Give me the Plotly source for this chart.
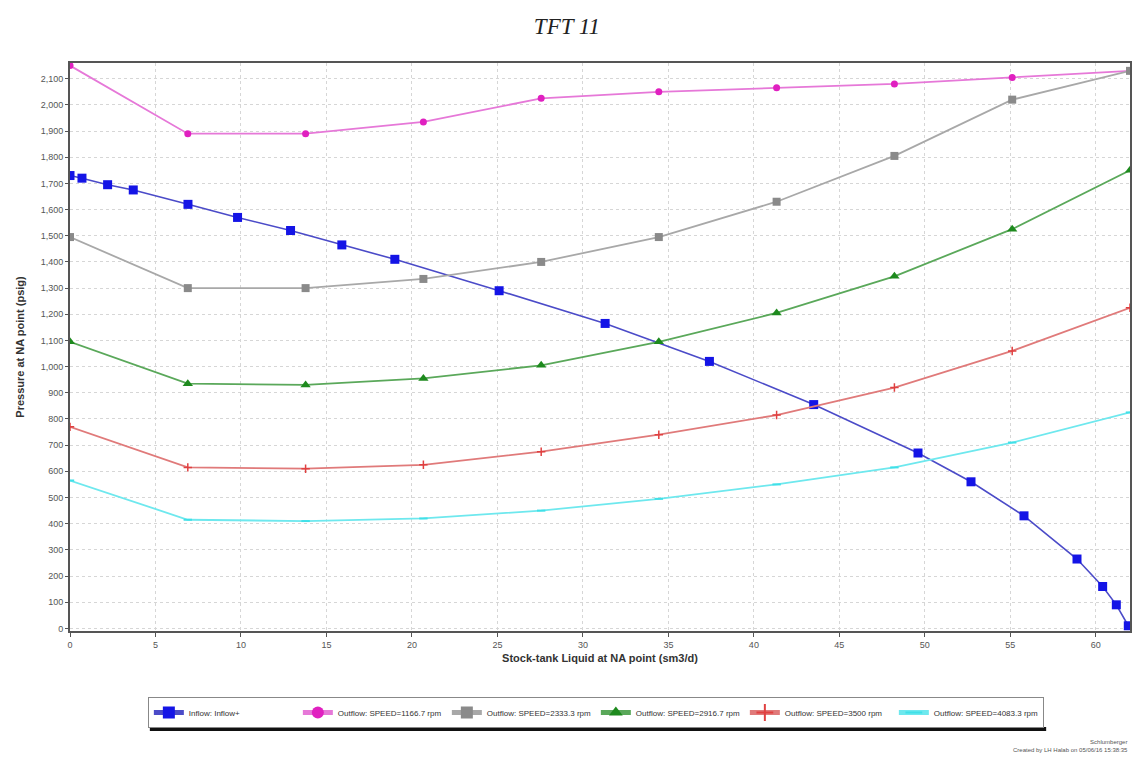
import plotly.graph_objects as go

# Liquid rate grid shared by the outflow (VLP) curves, sm3/d
outflow_rate = [0, 6.89, 13.78, 20.67, 27.56, 34.44, 41.33, 48.22, 55.11, 62.0]

# Outflow curves at each pump speed, pressure in psig
p_1166 = [2150, 1890, 1890, 1935, 2025, 2050, 2065, 2080, 2105, 2130]
p_2333 = [1495, 1300, 1300, 1335, 1400, 1495, 1630, 1805, 2020, 2130]
p_2916 = [1095, 935, 930, 955, 1005, 1095, 1205, 1345, 1525, 1750]
p_3500 = [770, 615, 610, 625, 675, 740, 815, 920, 1060, 1225]
p_4083 = [565, 415, 410, 420, 450, 495, 550, 615, 710, 825]

# Inflow (IPR) curve
inflow_rate = [0, 0.7, 2.2, 3.7, 6.9, 9.8, 12.9, 15.9, 19.0, 25.1,
               31.3, 37.4, 43.5, 49.6, 52.7, 55.8, 58.9, 60.4, 61.2, 61.9]
inflow_p = [1730, 1720, 1695, 1675, 1620, 1570, 1520, 1465, 1410, 1290,
            1165, 1020, 855, 670, 560, 430, 265, 160, 90, 10]

names = [
    "Inflow: Inflow+",
    "Outflow: SPEED=1166.7 rpm",
    "Outflow: SPEED=2333.3 rpm",
    "Outflow: SPEED=2916.7 rpm",
    "Outflow: SPEED=3500 rpm",
    "Outflow: SPEED=4083.3 rpm",
]

fig = go.Figure()

fig.add_trace(go.Scatter(
    x=inflow_rate, y=inflow_p, name=names[0], mode="lines+markers",
    line=dict(color="#4b4bc8", width=1.6),
    marker=dict(symbol="square", size=9, color="#1414e6"),
))

styles = [
    (p_1166, "#e678d8", dict(symbol="circle", size=7, color="#e020c0")),
    (p_2333, "#a8a8a8", dict(symbol="square", size=8, color="#8a8a8a")),
    (p_2916, "#5aa85a", dict(symbol="triangle-up", size=9, color="#1e8a1e")),
    (p_3500, "#e07a7a", dict(symbol="cross-thin", size=6, color="#e04040",
                             line=dict(width=1.5, color="#e04040"))),
    (p_4083, "#6ee8ee", dict(symbol="line-ew", size=6, color="#40e0e8",
                             line=dict(width=2, color="#40e0e8"))),
]
for (vals, lcol, mk), nm in zip(styles, names[1:]):
    fig.add_trace(go.Scatter(
        x=outflow_rate, y=vals, name=nm, mode="lines+markers",
        line=dict(color=lcol, width=1.8), marker=mk,
    ))

W, H = 1134, 758
ml, mr, mt, mb = 70, 2, 63, 127
plot_w = W - ml - mr
plot_h = H - mt - mb


def px_x(px):
    return (px - ml) / plot_w


def px_y(py):
    return -(py - (H - mb)) / plot_h


fig.update_layout(
    width=W, height=H,
    margin=dict(l=ml, r=mr, t=mt, b=mb),
    paper_bgcolor="white", plot_bgcolor="white",
    font=dict(family="Liberation Sans, Arial, sans-serif", color="#444"),
    title=dict(
        text="TFT 11", x=0.5, xanchor="center", y=1 - 26 / H, yanchor="middle",
        font=dict(family="Liberation Serif, Times New Roman, serif", size=23,
                  color="#222", style="italic"),
    ),
    showlegend=True,
    legend=dict(
        orientation="h", x=px_x(148), xanchor="left",
        y=px_y(697), yanchor="top",
        bgcolor="white", bordercolor="#888", borderwidth=1,
        font=dict(size=8, color="#333"), entrywidth=104, entrywidthmode="pixels",
        itemsizing="constant", itemwidth=30, tracegroupgap=0,
    ),
)

fig.update_xaxes(
    range=[0, 62], dtick=5, tick0=0,
    showgrid=True, gridcolor="#d6d6d6", griddash="dot", gridwidth=1,
    showline=True, linecolor="#555", linewidth=2, mirror=True,
    ticks="outside", ticklen=4, tickcolor="#555",
    tickfont=dict(size=9, color="#555"),
    zeroline=False,
    title=dict(text="<b>Stock-tank Liquid at NA point (sm3/d)</b>",
               font=dict(size=11, color="#333"), standoff=6),
)
fig.update_yaxes(
    range=[-10, 2160], dtick=100, tick0=0, tickformat=",d",
    showgrid=True, gridcolor="#d6d6d6", griddash="dot", gridwidth=1,
    showline=True, linecolor="#555", linewidth=2, mirror=True,
    ticks="outside", ticklen=3, tickcolor="#555",
    tickfont=dict(size=9, color="#555"),
    zeroline=False,
    title=dict(text="<b>Pressure at NA point (psig)</b>",
               font=dict(size=11, color="#333"), standoff=14),
)

# Drop shadow under the legend box
fig.add_shape(
    type="rect", xref="paper", yref="paper",
    x0=px_x(150), x1=px_x(1048), y0=px_y(731), y1=px_y(727),
    fillcolor="#111", line=dict(width=0), layer="below",
)

# Footer credits
fig.add_annotation(
    text="Schlumberger<br>Created by LH Halab on 05/06/16 15:38:35",
    xref="paper", yref="paper", x=1, xanchor="right",
    y=px_y(737), yanchor="top", showarrow=False, align="right",
    font=dict(size=6, color="#555"),
)

fig.write_html("out.html")
